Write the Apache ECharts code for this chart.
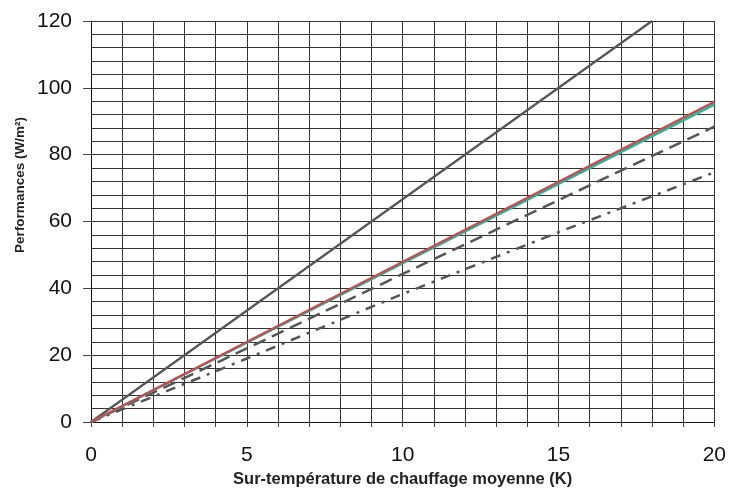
<!DOCTYPE html>
<html>
<head>
<meta charset="utf-8">
<script src="https://cdn.jsdelivr.net/npm/echarts@6/dist/echarts.min.js"></script>
<style>html,body{margin:0;padding:0;background:#fff}#c{width:729px;height:493px}</style>
</head>
<body>
<div id="c"></div>
<script>
var xSteep = [0, 18];
var ySteep = [0, 120];
var xRed = [0, 20];
var yRed = [0, 95.8];
var xTeal = [0, 20];
var yTeal = [0, 95.0];
var xDash = [0, 5, 10, 15, 20];
var yDash = [0, 22, 44.3, 66.4, 88.4];
var xDashDot = [0, 5, 10, 15, 20];
var yDashDot = [0, 19, 38.3, 56.8, 74.7];
var xTicks = [0, 5, 10, 15, 20];
var yTicks = [0, 20, 40, 60, 80, 100, 120];
var xTitle = 'Sur-température de chauffage moyenne (K)';
var yTitle = 'Performances (W/m²)';

function pairs(xs, ys) { return xs.map(function (x, i) { return [x, ys[i]]; }); }

var chart = echarts.init(document.getElementById('c'));
var font = 'Liberation Sans, Arial, sans-serif';
var gridColor = '#333';
chart.setOption({
  animation: false,
  grid: { left: 91, right: 14, top: 21, bottom: 70, containLabel: false },
  graphic: [{
    type: 'text', x: 20, y: 185, rotation: Math.PI / 2,
    style: { text: yTitle, fontFamily: font, fontWeight: 'bold', fontSize: 13.5, fill: '#222',
      align: 'center', verticalAlign: 'middle' }
  }],
  xAxis: {
    type: 'value', min: xTicks[0], max: xTicks[xTicks.length - 1], interval: 5,
    name: xTitle, nameLocation: 'middle', nameGap: 49,
    nameTextStyle: { fontFamily: font, fontWeight: 'bold', fontSize: 16.5, color: '#222' },
    axisLine: { show: true, lineStyle: { color: '#111', width: 1 } },
    axisTick: { show: true, length: 5, inside: false, lineStyle: { color: '#444' } },
    axisLabel: { fontFamily: font, fontSize: 21, color: '#111', margin: 23 },
    splitLine: { show: true, lineStyle: { color: gridColor, width: 1 } },
    minorTick: { show: true, splitNumber: 5, length: 5, lineStyle: { color: '#444' } },
    minorSplitLine: { show: true, lineStyle: { color: gridColor, width: 1 } }
  },
  yAxis: {
    type: 'value', min: yTicks[0], max: yTicks[yTicks.length - 1], interval: 20,
    axisLine: { show: true, lineStyle: { color: '#111', width: 1 } },
    axisTick: { show: true, length: 8, inside: false, lineStyle: { color: '#444' } },
    axisLabel: { fontFamily: font, fontSize: 21, color: '#111', margin: 19 },
    splitLine: { show: true, lineStyle: { color: gridColor, width: 1 } },
    minorTick: { show: false, splitNumber: 5 },
    minorSplitLine: { show: true, lineStyle: { color: gridColor, width: 1 } }
  },
  series: [
    { type: 'line', data: pairs(xDashDot, yDashDot), showSymbol: false, smooth: false,
      lineStyle: { color: '#555', width: 2.5, type: [10, 7, 3, 7] } },
    { type: 'line', data: pairs(xDash, yDash), showSymbol: false,
      lineStyle: { color: '#555', width: 2.5, type: [13, 7] } },
    { type: 'line', data: pairs(xSteep, ySteep), showSymbol: false,
      lineStyle: { color: '#555', width: 2.2 } },
    { type: 'line', data: pairs(xTeal, yTeal), showSymbol: false,
      lineStyle: { color: '#2bb5a0', width: 2.5 } },
    { type: 'line', data: pairs(xRed, yRed), showSymbol: false,
      lineStyle: { color: '#c0504d', width: 2.5 } }
  ]
});
</script>
</body>
</html>
